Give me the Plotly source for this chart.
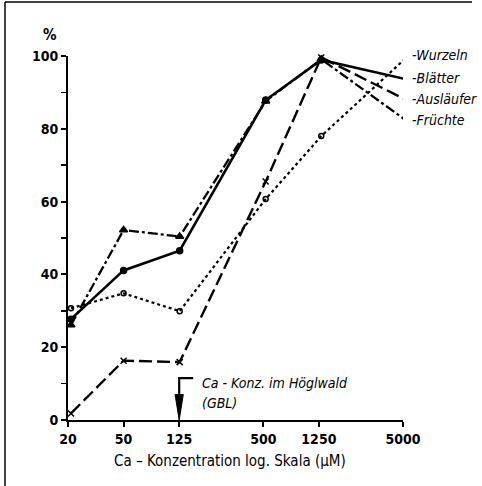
import plotly.graph_objects as go
import math

# ---- data ----
x_vals = [21, 50, 126, 520, 1300, 5300]
wurzeln = [30.7, 34.8, 29.9, 60.7, 78.0, 99.6]
blaetter = [27.7, 41.1, 46.5, 87.9, 98.9, 93.6]
auslaeufer = [1.8, 16.3, 15.9, 65.5, 99.6, 87.9]
fruechte = [26.1, 52.2, 50.4, 87.6, 99.1, 82.2]
series_names = ["Wurzeln", "Blätter", "Ausläufer", "Früchte"]
x_ticks = [20, 50, 125, 500, 1250, 5000]
y_ticks = [0, 20, 40, 60, 80, 100]
gbl_x = 125

FONT = "DejaVu Sans Condensed, Liberation Sans Narrow, Arial Narrow, sans-serif"
W, H = 482, 486
L, T = 68, 56
R = W - 403
B = H - 420
pw = W - L - R
ph = H - T - B

def px_x(p):  # page pixel -> paper x
    return (p - L) / pw

def px_y(p):  # page pixel -> paper y
    return (H - B - p) / ph

fig = go.Figure()
styles = [
    (wurzeln, "dot", "circle-open", 5, 2.2),
    (blaetter, "solid", "circle", 6, 2.6),
    (auslaeufer, "13px,5px", "x-thin-open", 6, 2.4),
    (fruechte, "10px,3px,3px,3px", "triangle-up", 7, 2.3),
]
for name, (vals, dash, sym, size, lw) in zip(series_names, styles):
    fig.add_trace(go.Scatter(
        x=x_vals, y=vals, mode="lines+markers", name=name,
        line=dict(color="black", width=lw, dash=dash),
        marker=dict(symbol=sym, size=size, color="black",
                    line=dict(color="black", width=1.5)),
        cliponaxis=False, showlegend=False, hoverinfo="skip"))

# end-of-line labels
label_y = [wurzeln[-1], blaetter[-1], auslaeufer[-1], fruechte[-1]]
label_shift = [2, 1, 1, 1]
for name, yv, ys in zip(series_names, label_y, label_shift):
    fig.add_annotation(x=math.log10(x_ticks[-1]), y=yv, text="-" + name,
                       showarrow=False, xanchor="left", yanchor="middle",
                       xshift=7, yshift=ys,
                       font=dict(family=FONT, size=14, color="black", style="italic"))

# GBL arrow (data coordinates on log axis)
fig.add_shape(type="path", xref="x", yref="y",
              path=f"M {gbl_x*1.26},11.5 L {gbl_x},11.5 L {gbl_x},5",
              line=dict(color="black", width=2.2))
fig.add_shape(type="path", xref="x", yref="y",
              path=f"M {gbl_x/1.07},7 L {gbl_x*1.07},7 L {gbl_x},0 Z",
              fillcolor="black", line=dict(color="black", width=1))
fig.add_annotation(x=math.log10(gbl_x * 1.41), y=10.3, text="Ca - Konz. im Höglwald",
                   showarrow=False, xanchor="left", yanchor="middle",
                   font=dict(family=FONT, size=14, color="black", style="italic"))
fig.add_annotation(x=math.log10(gbl_x * 1.41), y=4.7, text="(GBL)",
                   showarrow=False, xanchor="left", yanchor="middle",
                   font=dict(family=FONT, size=14, color="black", style="italic"))

# % label and x title
fig.add_annotation(xref="paper", yref="paper", x=px_x(50), y=px_y(35),
                   text="<b>%</b>", showarrow=False, xanchor="center", yanchor="middle",
                   font=dict(family=FONT, size=15, color="black"))
fig.add_annotation(xref="paper", yref="paper", x=px_x(230), y=px_y(461),
                   text="Ca – Konzentration log. Skala (µM)", showarrow=False,
                   xanchor="center", yanchor="middle",
                   font=dict(family=FONT, size=15, color="black"))

# frame lines (left and top)
fig.add_shape(type="line", xref="paper", yref="paper",
              x0=px_x(5), x1=px_x(5), y0=px_y(2), y1=px_y(486),
              line=dict(color="black", width=1.5))
fig.add_shape(type="line", xref="paper", yref="paper",
              x0=px_x(5), x1=px_x(472), y0=px_y(2), y1=px_y(2),
              line=dict(color="black", width=1.5))

fig.update_xaxes(type="log", range=[math.log10(20), math.log10(5000)],
                 tickvals=x_ticks, ticktext=[str(v) for v in x_ticks],
                 ticks="outside", ticklen=5, tickwidth=2, tickcolor="black",
                 showline=True, linecolor="black", linewidth=2, showgrid=False,
                 zeroline=False,
                 tickfont=dict(family=FONT, size=14, color="black", weight="bold"))
fig.update_yaxes(range=[0, 100], tickvals=y_ticks,
                 ticks="outside", ticklen=5, tickwidth=2, tickcolor="black",
                 minor=dict(dtick=10, tick0=0, ticks="outside", ticklen=5,
                            tickwidth=1.5, tickcolor="black", showgrid=False),
                 showline=True, linecolor="black", linewidth=2, showgrid=False,
                 zeroline=False,
                 tickfont=dict(family=FONT, size=14, color="black", weight="bold"))

fig.update_layout(width=W, height=H, margin=dict(l=L, r=R, t=T, b=B),
                  plot_bgcolor="white", paper_bgcolor="white", hovermode=False)
fig.write_html("out.html", config={"displayModeBar": False, "staticPlot": True},
               post_script="document.body.style.margin='0';"
                           "document.body.style.overflow='hidden';"
                           "document.documentElement.style.overflow='hidden';")
